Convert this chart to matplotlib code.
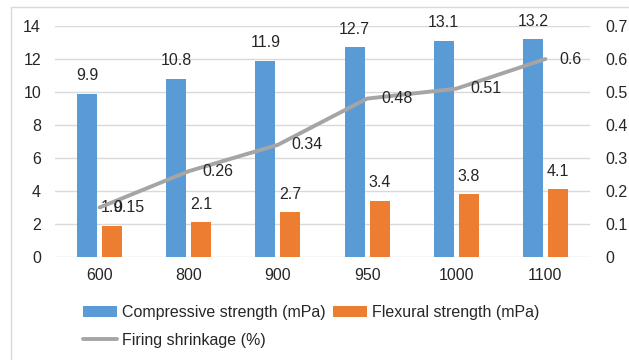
import matplotlib
matplotlib.use("Agg")
import matplotlib.pyplot as plt
import numpy as np
from matplotlib.patches import Rectangle

plt.rcParams['font.family'] = ['Liberation Sans', 'DejaVu Sans']

categories = ["600", "800", "900", "950", "1000", "1100"]
compressive = [9.9, 10.8, 11.9, 12.7, 13.1, 13.2]
flexural = [1.9, 2.1, 2.7, 3.4, 3.8, 4.1]
shrinkage = [0.15, 0.26, 0.34, 0.48, 0.51, 0.6]
left_ticks = [0, 2, 4, 6, 8, 10, 12, 14]
right_ticks = [0, 0.1, 0.2, 0.3, 0.4, 0.5, 0.6, 0.7]

blue = "#5B9BD5"
orange = "#ED7D31"
grey = "#A5A5A5"
txt = "#262626"
FS = 11.5
W, H = 629, 360

fig = plt.figure(figsize=(W / 100, H / 100), dpi=100)
fig.patches.append(Rectangle((11 / W, -0.1), 2, 1 - 7 / H + 0.1, transform=fig.transFigure,
                             fill=False, edgecolor="#D9D9D9", linewidth=1))

ax = fig.add_axes([55 / W, 1 - 257 / H, (590 - 55) / W, (257 - 26) / H])
x = np.arange(len(categories))
bw = 0.225
off = 0.14
b1 = ax.bar(x - off, compressive, bw, color=blue, zorder=2, label="Compressive strength (mPa)")
b2 = ax.bar(x + off, flexural, bw, color=orange, zorder=2, label="Flexural strength (mPa)")
for xi, v in zip(x, compressive):
    ax.annotate(f"{v:g}", (xi - off, v), xytext=(0, 7.5), textcoords="offset points",
                ha="center", va="bottom", fontsize=FS, color=txt, zorder=5)
for xi, v in zip(x, flexural):
    ax.annotate(f"{v:g}", (xi + off, v), xytext=(0, 7.5), textcoords="offset points",
                ha="center", va="bottom", fontsize=FS, color=txt, zorder=5)

ax.set_xlim(-0.5, len(categories) - 0.5)
ax.set_ylim(0, 14)
ax.set_yticks(left_ticks)
ax.set_xticks(x)
ax.set_xticklabels(categories)
ax.yaxis.grid(True, color="#D9D9D9", linewidth=1, zorder=0)
ax.set_axisbelow(True)
for s in ax.spines.values():
    s.set_visible(False)
ax.tick_params(axis="both", length=0, labelsize=FS, labelcolor=txt)
ax.tick_params(axis="x", pad=8)
ax.tick_params(axis="y", pad=10)

ax2 = ax.twinx()
ax2.set_ylim(0, 0.7)
ax2.set_yticks(right_ticks)
ax2.set_yticklabels([f"{t:g}" for t in right_ticks])
for s in ax2.spines.values():
    s.set_visible(False)
ax2.tick_params(axis="y", length=0, labelsize=FS, labelcolor=txt, pad=11)
ln, = ax2.plot(x, shrinkage, color=grey, linewidth=2.8, solid_capstyle="round",
               solid_joinstyle="round", zorder=3, label="Firing shrinkage (%)")
for xi, v in zip(x, shrinkage):
    ax2.annotate(f"{v:g}", (xi, v), xytext=(10, 0), textcoords="offset points",
                 ha="left", va="center", fontsize=FS, color=txt, zorder=5)

fig.legend(handles=[b1, ln, b2], loc="upper left", bbox_to_anchor=(83 / W, 1 - 305 / H),
           ncol=2, frameon=False, fontsize=FS, handlelength=2.13, handletextpad=0.31,
           columnspacing=0.44, labelspacing=0.79, borderaxespad=0, borderpad=0,
           labelcolor=txt)

fig.savefig("out.png", dpi=100)
